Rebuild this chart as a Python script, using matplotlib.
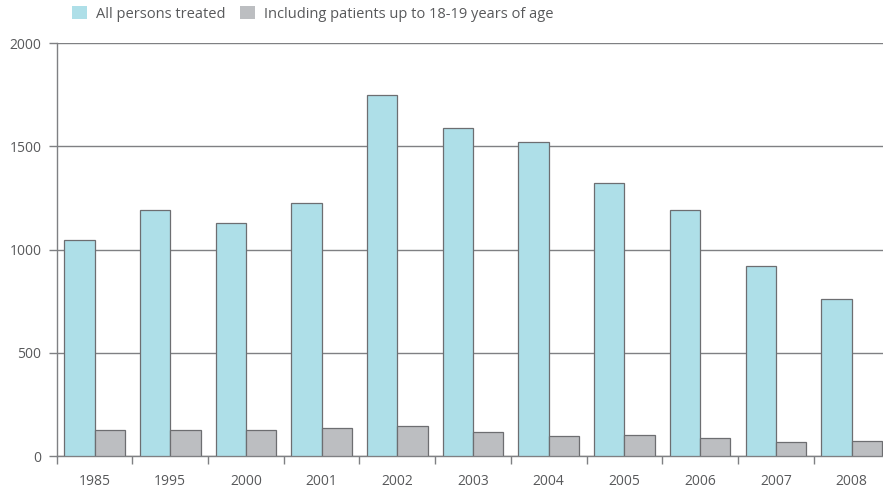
import matplotlib
matplotlib.use("Agg")
import matplotlib.pyplot as plt
from matplotlib.patches import Patch
from matplotlib.ticker import FixedLocator, NullFormatter, FixedFormatter
import numpy as np

plt.rcParams['font.family'] = ['Open Sans', 'DejaVu Sans']

years = ["1985", "1995", "2000", "2001", "2002", "2003", "2004", "2005", "2006", "2007", "2008"]
all_treated = [1045, 1190, 1128, 1224, 1750, 1590, 1520, 1322, 1193, 920, 762]
up_to_18_19 = [127, 128, 128, 135, 147, 118, 99, 102, 86, 66, 71]
series_labels = ["All persons treated", "Including patients up to 18-19 years of age"]
y_ticks = [0, 500, 1000, 1500, 2000]

blue = "#AEDFE8"
grey = "#BCBEC1"
edge = "#6D6E71"
line_col = "#7F8083"
text_col = "#58595B"

fig = plt.figure(figsize=(8.83, 4.91), dpi=100)
ax = fig.add_axes([56.7 / 883, 35 / 491, (889.4 - 56.7) / 883, (456 - 43.3) / 491])

x = np.arange(len(years))
w = 0.4
ax.bar(x - w / 2, all_treated, width=w, color=blue, edgecolor=edge, linewidth=0.9, zorder=3)
ax.bar(x + w / 2, up_to_18_19, width=w, color=grey, edgecolor=edge, linewidth=0.9, zorder=3)

ax.set_xlim(-0.5, len(years) - 0.5)
ax.set_ylim(0, 2000)

# y axis: ticks, labels and horizontal gridlines
ax.set_yticks(y_ticks)
ax.set_yticklabels([str(v) for v in y_ticks])
ax.yaxis.grid(True, color=line_col, linewidth=1.0, zorder=0)
ax.tick_params(axis='y', direction='out', length=6, width=1.0, color=line_col,
               labelsize=10, labelcolor=text_col, pad=5)

# x axis: separators between groups as major ticks, year labels on minor ticks
ax.xaxis.set_major_locator(FixedLocator(np.arange(-0.5, len(years), 1.0)))
ax.xaxis.set_major_formatter(NullFormatter())
ax.xaxis.set_minor_locator(FixedLocator(x))
ax.xaxis.set_minor_formatter(FixedFormatter(years))
ax.tick_params(axis='x', which='major', direction='out', length=6, width=1.0, color=line_col)
ax.tick_params(axis='x', which='minor', length=0, labelsize=10, labelcolor=text_col, pad=13)

for s in ['top', 'right']:
    ax.spines[s].set_visible(False)
for s in ['left', 'bottom']:
    ax.spines[s].set_color(line_col)
    ax.spines[s].set_linewidth(1.0)
ax.set_axisbelow(True)

handles = [Patch(facecolor=blue, edgecolor='none'), Patch(facecolor=grey, edgecolor='none')]
fig.legend(handles, series_labels, loc='upper left', bbox_to_anchor=(72 / 883, 1 - 6 / 491),
           ncol=2, frameon=False, fontsize=10.5, labelcolor=text_col,
           handlelength=1.03, handleheight=1.03, handletextpad=0.62, columnspacing=0.96,
           borderpad=0, borderaxespad=0)

fig.savefig("out.png", dpi=100)
